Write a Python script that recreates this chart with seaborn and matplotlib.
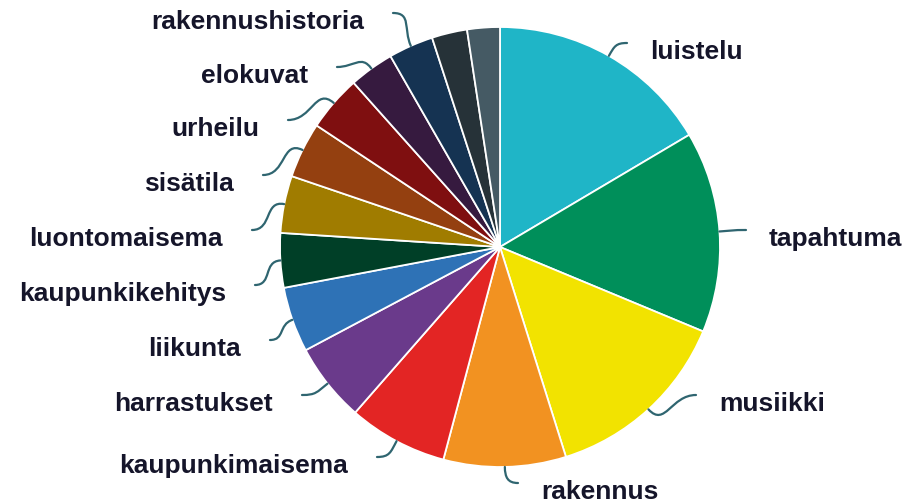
import numpy as np
import matplotlib
matplotlib.use('Agg')
import matplotlib.pyplot as plt
from matplotlib.path import Path
from matplotlib.patches import PathPatch
import seaborn as sns

# data, clockwise from 12 o'clock
categories = ['luistelu', 'tapahtuma', 'musiikki', 'rakennus', 'kaupunkimaisema',
              'harrastukset', 'liikunta', 'kaupunkikehitys', 'luontomaisema',
              'sisätila', 'urheilu', 'elokuvat', 'rakennushistoria', '', '']
shares = [16.5, 14.8, 13.9, 9.0, 7.3, 5.8, 4.8, 4.0, 4.2, 4.1, 4.1, 3.3, 3.3, 2.6, 2.4]
slice_colors = ['#1fb5c7', '#008f5a', '#f2e300', '#f29221', '#e32524', '#6a3a8b',
                '#2e72b6', '#003f27', '#a07c00', '#944010', '#7f0f10', '#361a3f',
                '#153352', '#263238', '#455a64']

# layout: where each leader line ends (pixels in the 920x503 picture)
W, H = 920, 503
CX, CY, R = 500, 247, 220
leader_end_px = {
    'luistelu': (627, 43), 'tapahtuma': (746, 230), 'musiikki': (696, 395),
    'rakennus': (518, 483), 'kaupunkimaisema': (377, 457), 'harrastukset': (302, 395),
    'liikunta': (270, 340), 'kaupunkikehitys': (255, 285), 'luontomaisema': (252, 230),
    'sisätila': (263, 175), 'urheilu': (288, 120), 'elokuvat': (337, 67),
    'rakennushistoria': (393, 13),
}
LINE_COLOR = '#2f6570'
TEXT_COLOR = '#15152a'

sns.set_theme(style='white')
plt.rcParams['font.family'] = ['Liberation Sans', 'DejaVu Sans']

palette = sns.color_palette(slice_colors)

fig = plt.figure(figsize=(W / 100, H / 100), dpi=100)
ax = fig.add_axes([(CX - R) / W, (H - CY - R) / H, 2 * R / W, 2 * R / H])

wedges, _ = ax.pie(shares, colors=palette, startangle=90, counterclock=False,
                   radius=1, wedgeprops=dict(edgecolor='white', linewidth=1.3))
ax.set_xlim(-1, 1)
ax.set_ylim(-1, 1)
ax.set_aspect('equal')
ax.axis('off')


def to_data(px, py):
    return np.array([(px - CX) / R, (CY - py) / R])


for w, name in zip(wedges, categories):
    if not name:
        continue
    mid = np.deg2rad((w.theta1 + w.theta2) / 2)
    radial = np.array([np.cos(mid), np.sin(mid)])
    p0 = radial * 1.0
    p3 = to_data(*leader_end_px[name])
    right = p3[0] > 0.03
    k = 0.5 * np.linalg.norm(p3 - p0)
    toward = np.array([-1.0, 0.0]) if right else np.array([1.0, 0.0])
    p1 = p0 + radial * k
    p2 = p3 + toward * k
    path = Path([p0, p1, p2, p3], [Path.MOVETO, Path.CURVE4, Path.CURVE4, Path.CURVE4])
    ax.add_patch(PathPatch(path, fill=False, edgecolor=LINE_COLOR, linewidth=1.6,
                           clip_on=False, capstyle='round'))

    gap = 23 / R if right else 29 / R
    tx = p3[0] + gap if right else p3[0] - gap
    ty = p3[1] - 16 / R
    ax.text(tx, ty, name, ha='left' if right else 'right', va='baseline',
            fontsize=19, fontweight='bold', color=TEXT_COLOR, clip_on=False)

fig.savefig('out.png', dpi=100)
